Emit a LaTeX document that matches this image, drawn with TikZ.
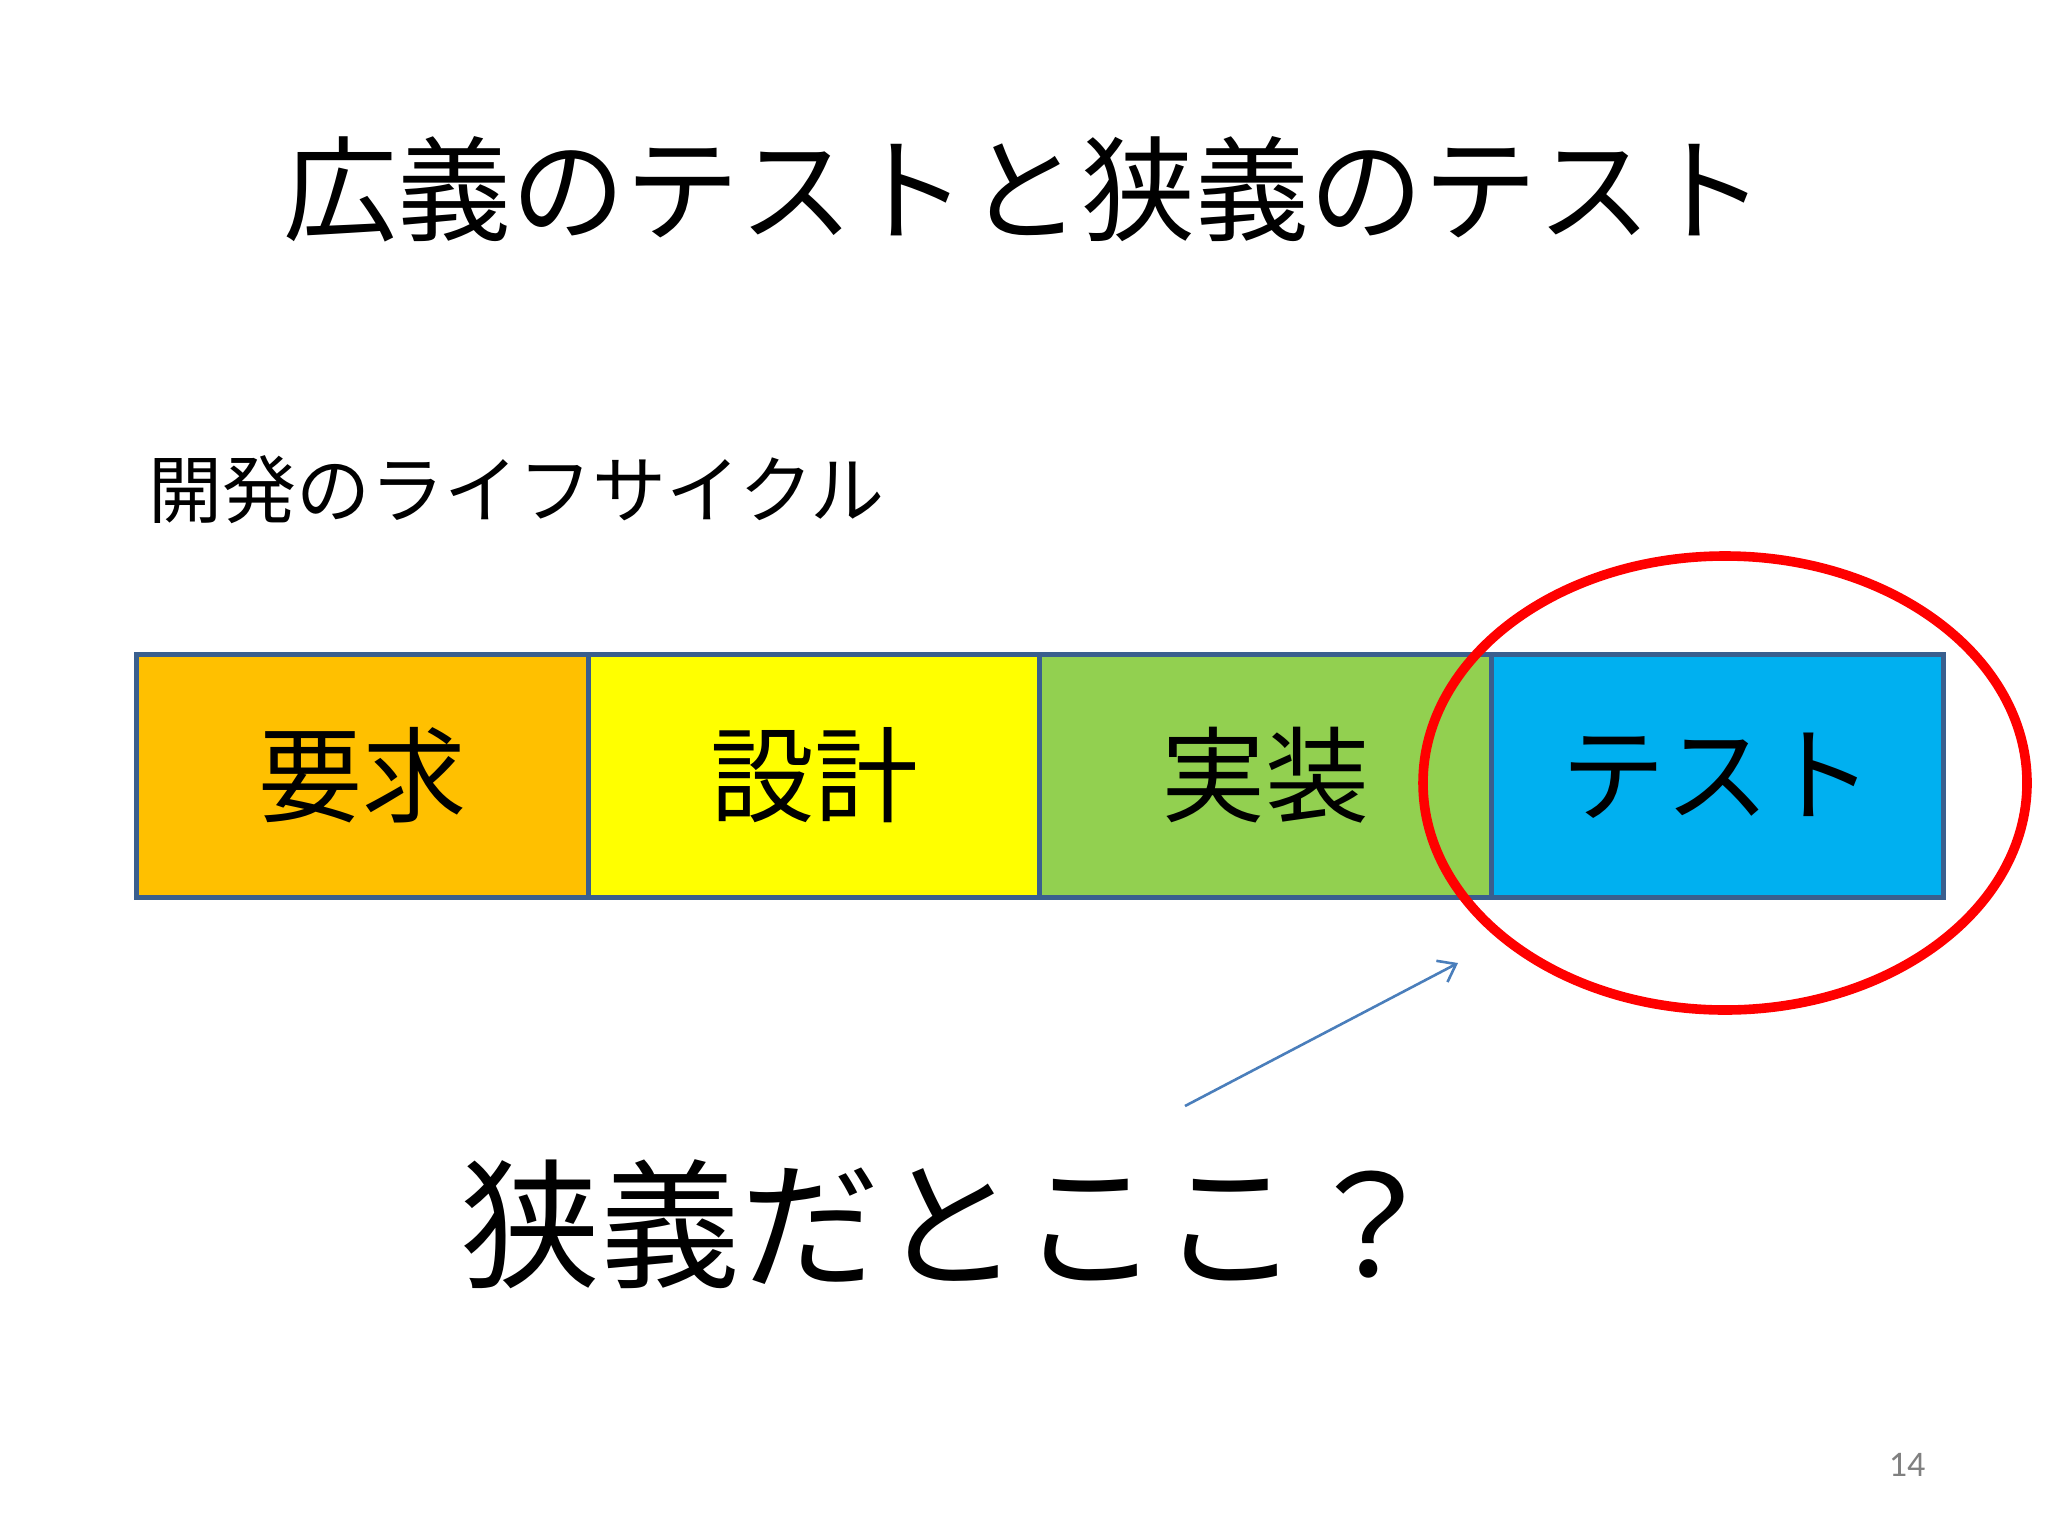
\documentclass[tikz,border=0pt]{standalone}
\usepackage{fontspec}
\newfontfamily\jp{Noto Sans CJK JP}
\newfontfamily\pagefont{Carlito}
\usetikzlibrary{arrows.meta}
\definecolor{cOrange}{HTML}{FFC000}
\definecolor{cYellow}{HTML}{FFFF00}
\definecolor{cGreen}{HTML}{92D050}
\definecolor{cBlue}{HTML}{00B0F0}
\definecolor{cBorder}{HTML}{3A5F8E}
\definecolor{cArrow}{HTML}{4A7EBB}
\definecolor{cPage}{HTML}{808080}
\tikzset{
  phase/.style={draw=cBorder, line width=2.5pt, minimum width=452*0.5pt, minimum height=243*0.5pt, inner sep=0pt, font=\jp\fontsize{52}{60}\selectfont},
}
\begin{document}
\begin{tikzpicture}[x=0.5pt,y=-0.5pt]
\useasboundingbox (0,0) rectangle (2048,1536);
\fill[white] (0,0) rectangle (2048,1536);
\node[font=\jp\fontsize{57}{64}\selectfont, inner sep=0pt] (title) at (1024,189) {広義のテストと狭義のテスト};
\node[font=\jp\fontsize{37}{42}\selectfont, anchor=west, inner sep=0pt] (sub) at (148,490) {開発のライフサイクル};
\node[phase, fill=cOrange] (req) at (362,775.5) {要求};
\node[phase, fill=cYellow] (des) at (814,775.5) {設計};
\node[phase, fill=cGreen] (imp) at (1265,775.5) {実装};
\node[phase, fill=cBlue] (tst) at (1717.5,775.5) {テスト};
\draw[red, line width=4.8pt] (1725,783) ellipse [x radius=302, y radius=227];
\coordinate (as) at (1185,1106);
\coordinate (ae) at (1458,963);
\draw[cArrow, line width=1.3pt, -{Straight Barb[length=8pt,width=12pt]}] (as) -- (ae);
\node[font=\jp\fontsize{70}{78}\selectfont, inner sep=0pt] (q) at (950,1224) {狭義だとここ？};
\node[font=\pagefont\fontsize{18}{20}\selectfont, text=cPage, inner sep=0pt] (pg) at (1907,1465) {14};
\end{tikzpicture}
\end{document}
